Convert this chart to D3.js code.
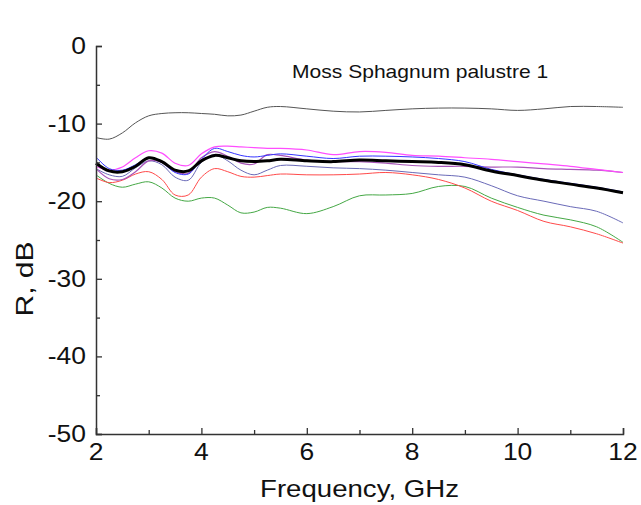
<!DOCTYPE html>
<html>
<head>
<meta charset="utf-8">
<script src="https://cdn.jsdelivr.net/npm/d3@7"></script>
<style>
  body { margin: 0; background: #fff; }
  text { font-family: "Liberation Sans", Arial, sans-serif; fill: #111; }
</style>
</head>
<body>
<svg id="chart" width="641" height="505"></svg>
<script>
// frequency grid, GHz
var freq = [2, 2.25, 2.5, 2.75, 3, 3.25, 3.5, 3.75, 4, 4.25, 4.5, 4.75, 5, 5.25, 5.5,
            6, 6.5, 7, 7.5, 8, 8.5, 9, 9.5, 10, 10.5, 11, 11.5, 12];

// reflection, dB
var grayR    = [-11.8, -12.0, -11.2, -9.9, -9.0, -8.7, -8.6, -8.6, -8.7, -8.8, -9.0, -8.9, -8.4, -7.9, -7.8,
                -8.1, -8.4, -8.5, -8.3, -8.1, -8.0, -8.0, -8.1, -8.3, -8.1, -7.8, -7.8, -7.9];
var greenR   = [-16.6, -17.7, -18.2, -17.8, -17.5, -18.3, -19.6, -20.0, -19.6, -19.6, -20.5, -21.5, -21.4, -20.8, -20.9,
                -21.6, -20.7, -19.3, -19.2, -19.0, -18.1, -18.1, -19.6, -20.8, -21.8, -22.4, -23.3, -25.3];
var redR     = [-17.0, -17.6, -17.3, -16.5, -16.2, -17.2, -19.2, -19.2, -16.9, -15.8, -16.2, -16.8, -16.9, -16.7, -16.5,
                -16.6, -16.6, -16.5, -16.3, -16.6, -17.2, -18.3, -20.0, -21.2, -22.6, -23.3, -24.2, -25.4];
var slateR   = [-15.8, -16.6, -16.8, -15.7, -14.8, -15.3, -16.9, -17.3, -15.0, -14.0, -14.8, -16.0, -16.6, -16.0, -15.4,
                -15.5, -15.7, -15.8, -16.0, -16.3, -16.6, -16.9, -18.0, -19.3, -20.0, -20.7, -21.3, -22.8];
var purpleR  = [-15.8, -17.1, -17.2, -16.2, -14.8, -15.0, -16.2, -16.4, -14.4, -13.6, -14.2, -15.1, -15.2, -14.0, -14.1,
                -14.7, -14.9, -14.9, -15.1, -15.4, -15.5, -15.5, -15.6, -15.6, -15.8, -15.9, -16.0, -16.3];
var magentaR = [-15.5, -16.0, -15.6, -14.4, -13.5, -13.8, -15.1, -15.4, -13.9, -13.0, -12.9, -13.0, -13.1, -13.2, -13.2,
                -13.4, -14.0, -13.6, -13.7, -14.1, -14.2, -14.4, -14.6, -14.9, -15.2, -15.5, -15.9, -16.3];
var blueR    = [-14.3, -15.8, -16.0, -15.3, -14.4, -15.0, -16.3, -16.5, -14.6, -13.2, -13.6, -14.1, -14.3, -14.1, -13.9,
                -14.2, -14.5, -14.2, -14.2, -14.3, -14.5, -14.9, -15.9, -16.6, -17.2, -17.7, -18.2, -18.8];
var meanR    = [-15.1, -16.1, -16.2, -15.5, -14.4, -14.9, -16.0, -16.1, -14.8, -14.1, -14.4, -14.8, -14.9, -14.8, -14.6,
                -14.8, -14.9, -14.7, -14.8, -14.9, -15.0, -15.3, -16.1, -16.7, -17.3, -17.8, -18.3, -18.9];

var xTicks = [2, 4, 6, 8, 10, 12];
var yTicks = [0, -10, -20, -30, -40, -50];
var title = "Moss Sphagnum palustre 1";

var series = [
  { values: grayR,    color: "#555555", width: 1 },
  { values: greenR,   color: "#45a845", width: 1 },
  { values: redR,     color: "#ff4a4a", width: 1 },
  { values: slateR,   color: "#6a6ab8", width: 1 },
  { values: purpleR,  color: "#a855b8", width: 1.2 },
  { values: magentaR, color: "#ff4dff", width: 1.2 },
  { values: blueR,    color: "#3535ff", width: 1 },
  { values: meanR,    color: "#000000", width: 3 }
];

var margin = { top: 46, left: 96 };
var width = 527, height = 388;
var stretch = 1.15;

var svg = d3.select("#chart");
var g = svg.append("g").attr("transform", "translate(" + margin.left + "," + margin.top + ")");

var x = d3.scaleLinear().domain([2, 12]).range([0, width]);
var y = d3.scaleLinear().domain([-50, 0]).range([height, 0]);

var line = d3.line()
    .x(function (d) { return x(d[0]); })
    .y(function (d) { return y(d[1]); })
    .curve(d3.curveCatmullRom.alpha(0.5));

series.forEach(function (s) {
  g.append("path")
    .datum(freq.map(function (f, i) { return [f, s.values[i]]; }))
    .attr("fill", "none")
    .attr("stroke", s.color)
    .attr("stroke-width", s.width)
    .attr("stroke-linejoin", "round")
    .attr("d", line);
});

// axes: ticks point inward
var xAxis = g.append("g").attr("transform", "translate(0," + height + ")");
xAxis.call(d3.axisBottom(x).tickValues(d3.range(2, 12.01, 1)).tickSize(-6).tickFormat(""));
xAxis.selectAll(".tick line").filter(function (d) { return d % 2 === 1; }).attr("y2", -4);

var yAxis = g.append("g");
yAxis.call(d3.axisLeft(y).tickValues(d3.range(-50, 0.01, 5)).tickSize(-6).tickFormat(""));
yAxis.selectAll(".tick line").filter(function (d) { return d % 10 !== 0; }).attr("x2", 4);

[xAxis, yAxis].forEach(function (a) {
  a.select(".domain").attr("stroke", "#333").attr("stroke-width", 1.5);
  a.selectAll(".tick line").attr("stroke", "#333").attr("stroke-width", 1.3);
});

// tick labels
g.selectAll("text.xl")
  .data(xTicks)
  .enter()
  .append("text")
  .attr("class", "xl")
  .attr("text-anchor", "middle")
  .attr("font-size", 23)
  .attr("transform", function (d) { return "translate(" + x(d) + "," + (height + 26) + ") scale(" + stretch + ",1)"; })
  .text(function (d) { return d; });

g.selectAll("text.yl")
  .data(yTicks)
  .enter()
  .append("text")
  .attr("class", "yl")
  .attr("text-anchor", "end")
  .attr("font-size", 23)
  .attr("transform", function (d) { return "translate(-10," + (y(d) + 8) + ") scale(" + stretch + ",1)"; })
  .text(function (d) { return d; });

// axis titles
svg.append("text")
  .attr("text-anchor", "middle")
  .attr("font-size", 24)
  .attr("transform", "translate(" + (margin.left + width / 2) + ",497) scale(" + stretch + ",1)")
  .text("Frequency, GHz");

svg.append("text")
  .attr("text-anchor", "middle")
  .attr("font-size", 24)
  .attr("transform", "translate(33,279) rotate(-90) scale(" + 1.25 + ",1)")
  .text("R, dB");

svg.append("text")
  .attr("font-size", 18)
  .attr("transform", "translate(292,78) scale(1.17,1)")
  .text(title);
</script>
</body>
</html>
